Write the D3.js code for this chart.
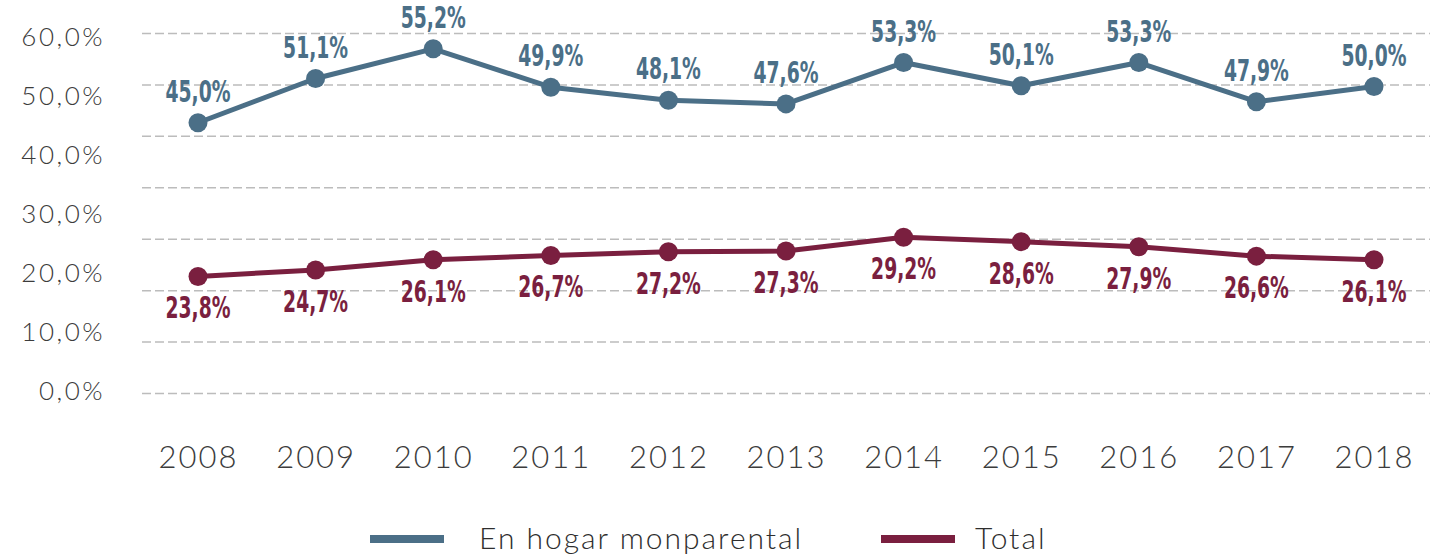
<!DOCTYPE html>
<html>
<head>
<meta charset="utf-8">
<script src="https://cdn.jsdelivr.net/npm/d3@7"></script>
<style>
  body { margin: 0; background: #fff; }
  svg text { font-family: Lato, "Open Sans", sans-serif; }
  .grid line { stroke: #bcbcbc; stroke-width: 1.5; stroke-dasharray: 9 4; }
  .grid .domain, .ylab .domain, .xlab .domain { display: none; }
  .val { font-family: "DejaVu Sans Condensed", "Liberation Sans Narrow", sans-serif !important; font-weight: bold; }
</style>
</head>
<body>
<svg id="chart" width="1430" height="556"></svg>
<script>
const years = [2008, 2009, 2010, 2011, 2012, 2013, 2014, 2015, 2016, 2017, 2018];
const monoparental = [45.0, 51.1, 55.2, 49.9, 48.1, 47.6, 53.3, 50.1, 53.3, 47.9, 50.0];
const total = [23.8, 24.7, 26.1, 26.7, 27.2, 27.3, 29.2, 28.6, 27.9, 26.6, 26.1];
const yTicks = [0, 10, 20, 30, 40, 50, 60];
const gridTicks = [0, 10, 20, 30, 40, 50, 60, 70];
const seriesNames = ['En hogar monparental', 'Total'];

const blue = '#4b6f87';
const red = '#7a1f3f';
const fmt = d => d.toFixed(1).replace('.', ',') + '%';

let svg = d3.select('#chart');
let width = 1430;

let x = d3.scalePoint()
  .domain(years)
  .range([198, 1374]);

// scale used for the plotted series
let y = d3.scaleLinear()
  .domain([0, 60])
  .range([449, 14]);

// the source draws its dashed grid and its tick labels on their own spacing
let gridY = d3.scaleLinear()
  .domain([0, 70])
  .range([393, 33]);

let labelY = d3.scaleLinear()
  .domain([0, 60])
  .range([390, 36]);

// Griglia
svg.append('g')
  .classed('grid', true)
  .attr('transform', 'translate(142,0)')
  .call(d3.axisLeft(gridY).tickValues(gridTicks).tickSize(-(width - 142)).tickFormat(''));

// Assi
let yAxis = svg.append('g')
  .classed('ylab', true)
  .attr('transform', 'translate(105,0)')
  .call(d3.axisLeft(labelY).tickValues(yTicks).tickSize(0).tickPadding(0).tickFormat(fmt));

yAxis.selectAll('text')
  .attr('dy', '0.36em')
  .style('font-size', '26px')
  .style('font-weight', 300)
  .style('letter-spacing', '2.5px')
  .attr('fill', '#3c3c3c');

let xAxis = svg.append('g')
  .classed('xlab', true)
  .attr('transform', 'translate(0,468)')
  .call(d3.axisBottom(x).tickSize(0).tickPadding(0));

xAxis.selectAll('text')
  .attr('y', 0)
  .attr('dy', 0)
  .style('font-size', '31px')
  .style('font-weight', 300)
  .style('letter-spacing', '2px')
  .attr('fill', '#3c3c3c');

let series = [
  { name: seriesNames[0], values: monoparental, color: blue, off: -21 },
  { name: seriesNames[1], values: total, color: red, off: 42 }
];

let line = d3.line()
  .x((d, i) => x(years[i]))
  .y(d => y(d));

series.forEach(function(s) {
  let g = svg.append('g');

  g.append('path')
    .attr('d', line(s.values))
    .attr('fill', 'none')
    .attr('stroke', s.color)
    .attr('stroke-width', 5)
    .attr('stroke-linejoin', 'round');

  g.selectAll('circle')
    .data(s.values)
    .enter()
    .append('circle')
    .attr('cx', (d, i) => x(years[i]))
    .attr('cy', d => y(d))
    .attr('r', 9.5)
    .attr('fill', s.color);

  g.selectAll('text')
    .data(s.values)
    .enter()
    .append('text')
    .classed('val', true)
    .attr('x', (d, i) => x(years[i]))
    .attr('y', d => y(d) + s.off)
    .attr('text-anchor', 'middle')
    .attr('textLength', 65)
    .attr('lengthAdjust', 'spacingAndGlyphs')
    .style('font-size', '31px')
    .attr('fill', s.color)
    .text(fmt);
});

// Legenda
const legendX = [370, 881];
let legend = svg.append('g')
  .attr('transform', 'translate(0,539)');

let item = legend.selectAll('g')
  .data(series)
  .enter()
  .append('g')
  .attr('transform', (d, i) => `translate(${legendX[i]},0)`);

item.append('line')
  .attr('x1', 0)
  .attr('x2', 74)
  .attr('stroke', d => d.color)
  .attr('stroke-width', 8);

item.append('text')
  .attr('x', (d, i) => i === 0 ? 109 : 94)
  .attr('y', 10)
  .style('font-size', '30px')
  .style('font-weight', 300)
  .style('letter-spacing', '2px')
  .attr('fill', '#2e2e2e')
  .text(d => d.name);
</script>
</body>
</html>
